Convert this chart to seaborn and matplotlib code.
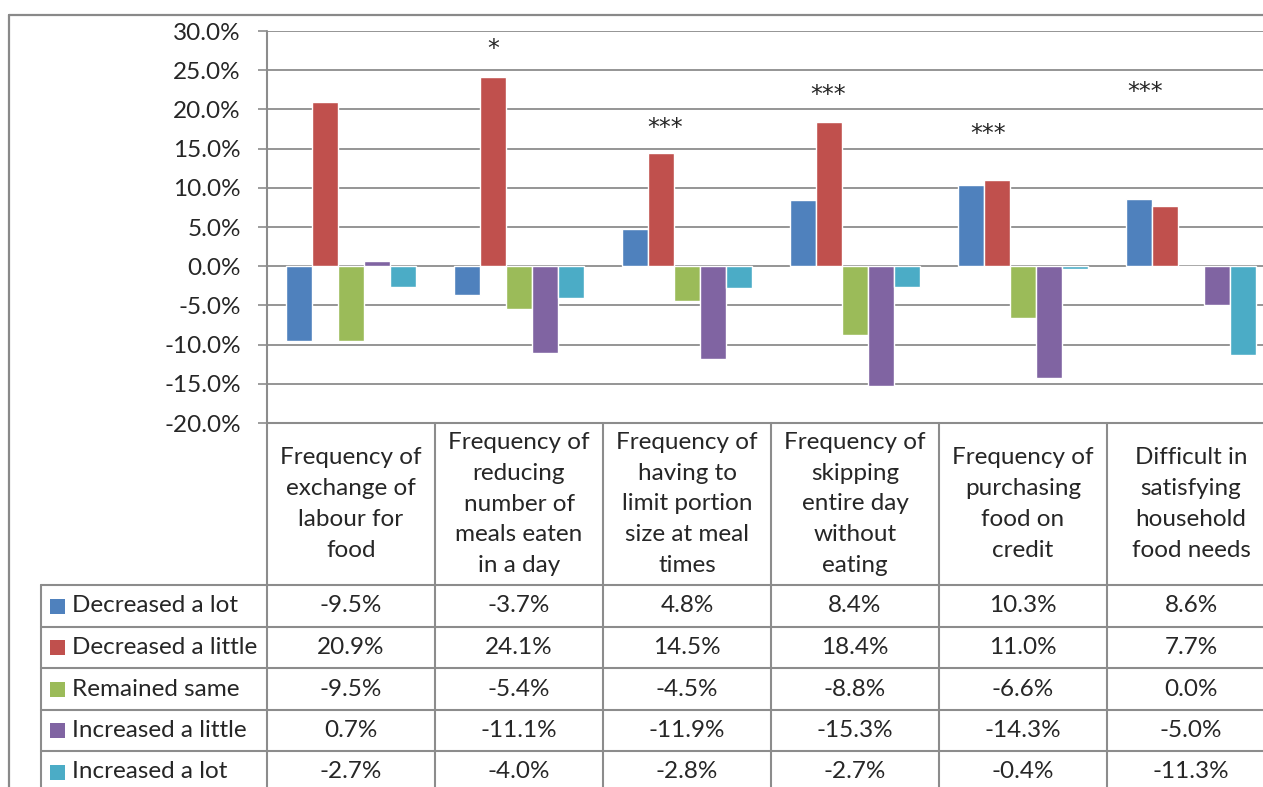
import matplotlib
matplotlib.use('Agg')
import matplotlib.pyplot as plt
import matplotlib.transforms as mtransforms
from matplotlib.lines import Line2D
from matplotlib.patches import Rectangle
from matplotlib.ticker import FuncFormatter
import pandas as pd
import seaborn as sns

# data
categories = ['Frequency of\nexchange of\nlabour for\nfood',
              'Frequency of\nreducing\nnumber of\nmeals eaten\nin a day',
              'Frequency of\nhaving to\nlimit portion\nsize at meal\ntimes',
              'Frequency of\nskipping\nentire day\nwithout\neating',
              'Frequency of\npurchasing\nfood on\ncredit',
              'Difficult in\nsatisfying\nhousehold\nfood needs']
series = ['Decreased a lot', 'Decreased a little', 'Remained same', 'Increased a little', 'Increased a lot']
decreased_lot = [-9.5, -3.7, 4.8, 8.4, 10.3, 8.6]
decreased_little = [20.9, 24.1, 14.5, 18.4, 11.0, 7.7]
remained_same = [-9.5, -5.4, -4.5, -8.8, -6.6, 0.0]
increased_little = [0.7, -11.1, -11.9, -15.3, -14.3, -5.0]
increased_lot = [-2.7, -4.0, -2.8, -2.7, -0.4, -11.3]
significance = ['', '*', '***', '***', '***', '***']
yticks = [-20, -15, -10, -5, 0, 5, 10, 15, 20, 25, 30]

# layout of the hand-placed significance marks (category offset, y in %)
star_dx = [0, -0.155, -0.131, -0.161, -0.208, -0.274]
star_y = [0, 27.7, 17.6, 21.8, 16.9, 22.2]

colors = ['#4F81BD', '#C0504D', '#9BBB59', '#8064A2', '#4BACC6']
grid_color = '#8c8c8c'

values = [decreased_lot, decreased_little, remained_same, increased_little, increased_lot]
rows = []
for s, vals in zip(series, values):
    for c, v in zip(categories, vals):
        rows.append({'category': c, 'series': s, 'value': v})
df = pd.DataFrame(rows)

sns.set_style('white')
plt.rcParams['font.family'] = ['Lato', 'DejaVu Sans']
fs = 17.5

W, H = 1263, 787
fig = plt.figure(figsize=(W / 100, H / 100), dpi=100)


def fy(py):
    return 1 - py / H


def fx(px):
    return px / W


ax = fig.add_axes([fx(267), fy(423), fx(1275) - fx(267), fy(31) - fy(423)])
sns.barplot(data=df, x='category', y='value', hue='series', order=categories, hue_order=series,
            palette=colors, saturation=1, width=0.77, ax=ax, legend=False, zorder=3)
ax.set_xlim(-0.5, len(categories) - 0.5)
ax.set_ylim(-20, 30)
ax.set_yticks(yticks)
ax.yaxis.set_major_formatter(FuncFormatter(lambda v, p: f'{v:.1f}%'))
ax.tick_params(axis='y', which='both', left=True, direction='out', length=6.3, width=1.2,
               color=grid_color, pad=12.5, labelsize=fs)
ax.set_xticks([])
ax.set_xlabel('')
ax.set_ylabel('')
ax.grid(axis='y', color=grid_color, linewidth=1.3, zorder=0)
ax.set_axisbelow(True)
for sp in ax.spines.values():
    sp.set_visible(False)

for i, mark in enumerate(significance):
    if mark:
        ax.text(i + star_dx[i], star_y[i], mark, ha='center', va='center', fontsize=17,
                family='DejaVu Sans')

# data table below the axes
tr = mtransforms.blended_transform_factory(ax.transData, fig.transFigure)
line_kw = dict(color=grid_color, linewidth=1.5, clip_on=False)
bottom = fy(800)

fig.add_artist(Line2D([fx(267), fx(267)], [fy(31), bottom], **line_kw))
fig.add_artist(Line2D([fx(267), 1.1], [fy(423), fy(423)], **line_kw))
row_lines = [585, 627, 668, 710, 751]
for ry in row_lines:
    fig.add_artist(Line2D([fx(41), 1.1], [fy(ry), fy(ry)], **line_kw))
fig.add_artist(Line2D([fx(41), fx(41)], [fy(585), bottom], **line_kw))
for i in range(1, len(categories) + 1):
    fig.add_artist(Line2D([i - 0.5, i - 0.5], [fy(423), bottom], transform=tr, **line_kw))

for i, c in enumerate(categories):
    fig.text(i, fy(504), c, transform=tr, ha='center', va='center', fontsize=fs, linespacing=1.58)

row_centers = [606, 647.5, 689, 730.5, 772]
for s, vals, col, rc in zip(series, values, colors, row_centers):
    fig.add_artist(Rectangle((fx(50), fy(rc + 7.5)), fx(15), fy(rc - 7.5) - fy(rc + 7.5),
                             facecolor=col, edgecolor='none'))
    fig.text(fx(72), fy(rc), s, ha='left', va='center', fontsize=fs)
    for i, v in enumerate(vals):
        fig.text(i, fy(rc), f'{v:.1f}%', transform=tr, ha='center', va='center', fontsize=fs)

# outer chart frame
frame_kw = dict(color='#898989', linewidth=1.6, clip_on=False)
fig.add_artist(Line2D([fx(9), fx(9)], [fy(15), -0.1], **frame_kw))
fig.add_artist(Line2D([fx(9), 1.1], [fy(15), fy(15)], **frame_kw))

fig.savefig('out.png', dpi=100)
